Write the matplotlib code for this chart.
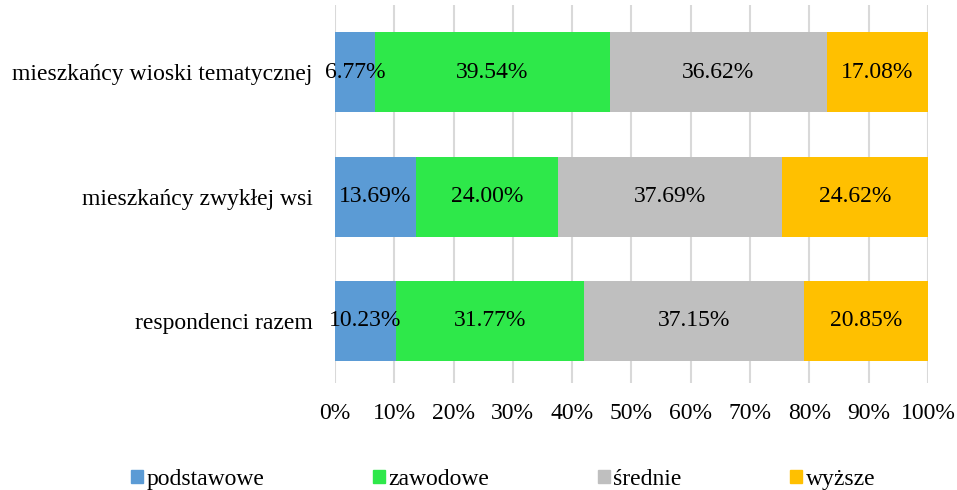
import numpy as np
import matplotlib.pyplot as plt
from matplotlib.patches import Patch

# Data (bottom to top)
categories = ['respondenci razem', 'mieszkańcy zwykłej wsi', 'mieszkańcy wioski tematycznej']
series = ['podstawowe', 'zawodowe', 'średnie', 'wyższe']
podstawowe = [10.23, 13.69, 6.77]
zawodowe = [31.77, 24.00, 39.54]
srednie = [37.15, 37.69, 36.62]
wyzsze = [20.85, 24.62, 17.08]
colors = ['#5B9BD5', '#2EE84A', '#BFBFBF', '#FFC000']

plt.rcParams['font.family'] = ['Liberation Serif', 'DejaVu Serif']
FS = 17

fig = plt.figure(figsize=(9.57, 4.9), dpi=100)
ax = fig.add_axes([0.350, 0.218, 0.6197, 0.772])

y = np.arange(len(categories))
left = np.zeros(len(categories))
for name, vals, col in zip(series, [podstawowe, zawodowe, srednie, wyzsze], colors):
    vals = np.array(vals)
    ax.barh(y, vals, left=left, height=0.643, color=col, label=name, zorder=2)
    for yi, l, v in zip(y, left, vals):
        ax.text(l + v / 2, yi, f'{v:.2f}%', ha='center', va='center',
                fontsize=FS, color='black', zorder=3)
    left += vals

ax.set_xlim(0, 100)
ax.set_ylim(-0.5, 2.54)
ax.set_xticks(np.arange(0, 101, 10))
ax.set_xticklabels([f'{t}%' for t in range(0, 101, 10)], fontsize=FS)
ax.set_yticks(y)
ax.set_yticklabels(categories, fontsize=FS)
ax.tick_params(axis='x', length=0, pad=14)
ax.tick_params(axis='y', length=0, pad=16)
ax.grid(axis='x', color='#D9D9D9', linewidth=1.5, zorder=0)
for s in ax.spines.values():
    s.set_visible(False)

handles = [Patch(color=c, label=n) for n, c in zip(series, colors)]
fig.legend(handles=handles, loc='center', bbox_to_anchor=(0.526, 0.022), ncol=4,
           frameon=False, fontsize=FS, handlelength=0.5, handleheight=0.5,
           handletextpad=0.15, columnspacing=4.6)

fig.savefig('out.png', dpi=100)
